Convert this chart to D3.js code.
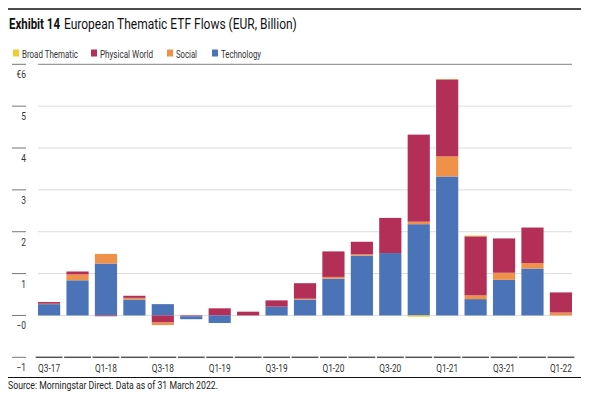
<!DOCTYPE html>
<html>
<head>
<meta charset="utf-8">
<script src="https://cdn.jsdelivr.net/npm/d3@7"></script>
<style>
  body { margin: 0; background: #fff; }
  svg { display: block; }
  text { font-family: "Roboto", "Liberation Sans", sans-serif; fill: #333; }
</style>
</head>
<body>
<div id="vis"></div>
<script>
const FRAME_WIDTH = 589;
const FRAME_HEIGHT = 399;
const PLOT = {left: 38, right: 572, top: 64.3, bottom: 357.3};

// data (EUR billion)
const quarters = ['Q3-17','Q4-17','Q1-18','Q2-18','Q3-18','Q4-18','Q1-19','Q2-19','Q3-19','Q4-19',
                  'Q1-20','Q2-20','Q3-20','Q4-20','Q1-21','Q2-21','Q3-21','Q4-21','Q1-22'];
const technology = [0.27, 0.84, 1.24, 0.38, 0.27, -0.07, -0.18, 0.00, 0.21, 0.38,
                    0.88, 1.43, 1.49, 2.18, 3.32, 0.39, 0.85, 1.12, 0.00];
const social = [0.01, 0.14, 0.23, 0.04, -0.06, 0.00, 0.00, 0.00, 0.00, 0.02,
                0.04, 0.03, 0.00, 0.06, 0.48, 0.09, 0.17, 0.13, 0.07];
const physicalWorld = [0.04, 0.07, -0.02, 0.05, -0.17, -0.02, 0.17, 0.09, 0.15, 0.37,
                       0.61, 0.30, 0.84, 2.08, 1.84, 1.41, 0.82, 0.85, 0.48];
const broadThematic = [0, 0, 0, 0, 0, 0, 0, 0, 0, 0,
                       0, 0, 0, -0.03, 0.01, 0.02, 0, 0, 0];

const legendNames = ['Broad Thematic', 'Physical World', 'Social', 'Technology'];
const tickValues = [6, 5, 4, 3, 2, 1, 0, -1];
const tickLabels = ['€6', '5', '4', '3', '2', '1', '\u22120', '\u22121'];
const xLabelQuarters = ['Q3-17','Q1-18','Q3-18','Q1-19','Q3-19','Q1-20','Q3-20','Q1-21','Q3-21','Q1-22'];

const COLORS = {
  'Broad Thematic': '#f2cb2e',
  'Physical World': '#b42f57',
  'Social': '#f0914a',
  'Technology': '#4a73b8'
};

const table = quarters.map((q, i) => ({
  quarter: q,
  'Technology': technology[i],
  'Social': social[i],
  'Physical World': physicalWorld[i],
  'Broad Thematic': broadThematic[i]
}));

// the original uses a condensed face; squeeze the installed one
function condense(sel, factor) {
  sel.each(function () {
    const w = this.getComputedTextLength();
    d3.select(this).attr('textLength', w * factor).attr('lengthAdjust', 'spacingAndGlyphs');
  });
}

// squeeze a text placed at (x, y) to a given width with a transform
function squeezeTo(node, x, y, width) {
  const w = node.getComputedTextLength();
  d3.select(node).attr('transform', 'translate(' + x + ',' + y + ') scale(' + (width / w) + ',1)');
}

const svg = d3.select('#vis')
  .append('svg')
    .attr('width', FRAME_WIDTH)
    .attr('height', FRAME_HEIGHT);

const X_SCALE = d3.scaleBand()
  .domain(quarters)
  .range([PLOT.left, PLOT.right])
  .paddingInner(0.22)
  .paddingOuter(0);

const Y_SCALE = d3.scaleLinear()
  .domain([-1, 6])
  .range([PLOT.bottom, PLOT.top]);

// top rule + title
svg.append('line')
  .attr('x1', 8).attr('x2', 581).attr('y1', 9).attr('y2', 9)
  .attr('stroke', '#111').attr('stroke-width', 1.3);

const titleBold = svg.append('text')
  .attr('font-size', 14.5)
  .attr('font-weight', 'bold')
  .style('fill', '#111')
  .text('Exhibit 14');
squeezeTo(titleBold.node(), 9, 28.5, 51);

const titleRest = svg.append('text')
  .attr('font-size', 14.5)
  .style('fill', '#111')
  .text('European Thematic ETF Flows (EUR, Billion)');
squeezeTo(titleRest.node(), 64, 28.5, 233);

// legend
const legendX = [13, 91, 167, 212];
const legendW = [56, 53, 21, 40];
const legend = svg.append('g');
legendNames.forEach((name, i) => {
  legend.append('rect')
    .attr('x', legendX[i]).attr('y', 49.5)
    .attr('width', 6).attr('height', 7)
    .attr('fill', COLORS[name]);
  legend.append('text')
    .attr('x', legendX[i] + 9).attr('y', 57.5)
    .attr('font-size', 10.5)
    .attr('textLength', legendW[i])
    .attr('lengthAdjust', 'spacingAndGlyphs')
    .text(name);
});

// gridlines
svg.append('g')
  .selectAll('line')
  .data(tickValues.filter(v => v > -1))
  .enter()
  .append('line')
    .attr('x1', PLOT.left).attr('x2', PLOT.right)
    .attr('y1', d => Y_SCALE(d)).attr('y2', d => Y_SCALE(d))
    .attr('stroke', d => d === 6 ? '#9a9a9a' : '#dcdcdc')
    .attr('stroke-width', d => d === 6 ? 1.2 : 1);

// left tick dashes + labels (label sits under the dash)
const yTicks = svg.append('g');
tickValues.forEach((v, i) => {
  yTicks.append('line')
    .attr('x1', 12).attr('x2', 26)
    .attr('y1', Y_SCALE(v)).attr('y2', Y_SCALE(v))
    .attr('stroke', '#777').attr('stroke-width', 1);
  yTicks.append('text')
    .attr('x', 26).attr('y', Y_SCALE(v) + 14)
    .attr('text-anchor', 'end')
    .attr('font-size', 10.5)
    .text(tickLabels[i]);
});
condense(yTicks.selectAll('text'), 0.8);

// stacking: positives upward Technology -> Broad, negatives downward Broad -> Technology
const posKeys = ['Technology', 'Social', 'Physical World', 'Broad Thematic'];
const negKeys = ['Broad Thematic', 'Physical World', 'Social', 'Technology'];

const posSeries = d3.stack().keys(posKeys)
  .value((d, k) => Math.max(0, d[k]))(table);
const negSeries = d3.stack().keys(negKeys)
  .value((d, k) => Math.min(0, d[k]))
  .offset(d3.stackOffsetDiverging)(table);

const bars = svg.append('g');
[posSeries, negSeries].forEach(series => {
  bars.selectAll(null)
    .data(series)
    .enter()
    .append('g')
      .attr('fill', s => COLORS[s.key])
    .selectAll('rect')
    .data(s => s.filter(p => p[1] !== p[0]))
    .enter()
    .append('rect')
      .attr('x', p => X_SCALE(p.data.quarter))
      .attr('width', X_SCALE.bandwidth())
      .attr('y', p => Y_SCALE(Math.max(p[0], p[1])))
      .attr('height', p => Math.abs(Y_SCALE(p[0]) - Y_SCALE(p[1])));
});

// bottom axis (segmented dark line)
const step = X_SCALE.step();
svg.append('g')
  .selectAll('line')
  .data(quarters)
  .enter()
  .append('line')
    .attr('x1', d => X_SCALE(d) - step * 0.11 + 0.8)
    .attr('x2', d => X_SCALE(d) + X_SCALE.bandwidth() + step * 0.11 - 0.8)
    .attr('y1', PLOT.bottom).attr('y2', PLOT.bottom)
    .attr('stroke', '#555').attr('stroke-width', 1.5);

svg.append('g')
  .selectAll('text')
  .data(xLabelQuarters)
  .enter()
  .append('text')
    .attr('x', d => X_SCALE(d) + X_SCALE.bandwidth() / 2)
    .attr('y', 372)
    .attr('text-anchor', 'middle')
    .attr('font-size', 10.5)
    .attr('textLength', 22)
    .attr('lengthAdjust', 'spacingAndGlyphs')
    .text(d => d);

// bottom rule + source
svg.append('line')
  .attr('x1', 8).attr('x2', 581).attr('y1', 377.5).attr('y2', 377.5)
  .attr('stroke', '#111').attr('stroke-width', 1.2);

svg.append('text')
  .attr('x', 8).attr('y', 389)
  .attr('font-size', 10.5)
  .attr('textLength', 210)
  .attr('lengthAdjust', 'spacingAndGlyphs')
  .style('fill', '#222')
  .text('Source: Morningstar Direct. Data as of 31 March 2022.');
</script>
</body>
</html>
